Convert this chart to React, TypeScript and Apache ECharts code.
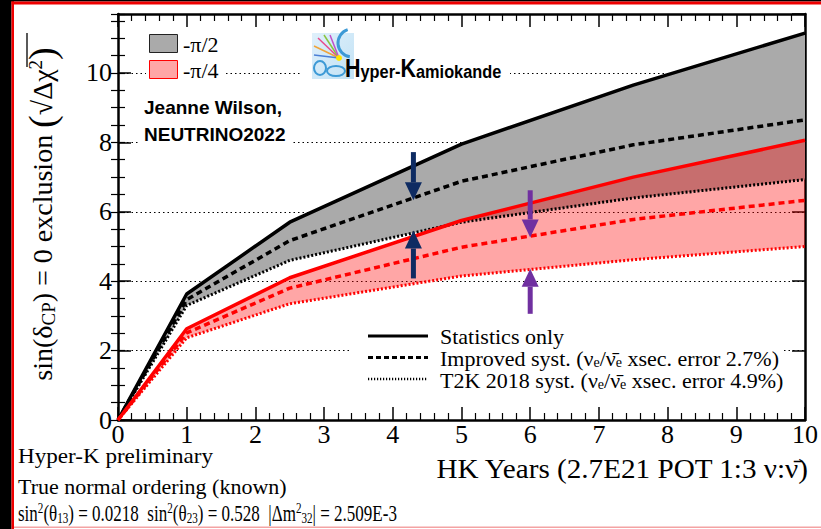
import React, { useEffect, useRef } from "react";
import * as echarts from "echarts";

const SERIF = '"Liberation Serif", "Times New Roman", serif';
const SANS = '"Liberation Sans", Arial, sans-serif';

// HK years of running
const YEARS = [0, 1, 2.5, 5, 7.5, 10];
// -pi/2 : sqrt(delta chi2) for sin(dCP)=0 exclusion
const PI2_STAT = [0, 3.63, 5.7, 7.95, 9.65, 11.15];
const PI2_IMPROVED = [0, 3.47, 5.17, 6.88, 7.93, 8.65];
const PI2_T2K = [0, 3.3, 4.6, 5.7, 6.4, 6.93];
// -pi/4
const PI4_STAT = [0, 2.63, 4.1, 5.75, 7.0, 8.06];
const PI4_IMPROVED = [0, 2.51, 3.8, 4.98, 5.78, 6.33];
const PI4_T2K = [0, 2.37, 3.35, 4.15, 4.62, 5.0];

const THRESHOLD_SIGMA = 5;
const X_MIN = 0;
const X_MAX = 10;
const Y_MIN = 0;
const Y_MAX = 11.7;

// arrows: x position, start value, tip value
const ARROW_X = [4.3, 4.3, 6, 6];
const ARROW_FROM = [7.72, 4.08, 6.62, 3.06];
const ARROW_TO = [6.33, 5.46, 5.26, 4.36];
const ARROW_COLORS = ["#0e2b62", "#0e2b62", "#7030a0", "#7030a0"];

const pairs = (ys: number[]) => YEARS.map((x, i) => [x, ys[i]]);

function band(upper: number[], lower: number[], fill: string, z: number) {
  return {
    type: "custom",
    coordinateSystem: "cartesian2d",
    silent: true,
    clip: true,
    z,
    data: [[0, 0]],
    renderItem: (_p: any, api: any) => {
      const pts: number[][] = [];
      for (let i = 0; i < YEARS.length; i++) pts.push(api.coord([YEARS[i], upper[i]]));
      for (let i = YEARS.length - 1; i >= 0; i--) pts.push(api.coord([YEARS[i], lower[i]]));
      return { type: "polygon", shape: { points: pts }, style: { fill } };
    },
  };
}

function line(ys: number[], color: string, width: number, dash: any, z = 4) {
  return {
    type: "line",
    data: pairs(ys),
    showSymbol: false,
    symbol: "none",
    silent: true,
    z,
    lineStyle: { color, width, type: dash, cap: "butt" },
  };
}

export default function App() {
  const ref = useRef<HTMLDivElement>(null);
  useEffect(() => {
    if (!ref.current) return;
    const chart = echarts.init(ref.current, undefined, { renderer: "svg" });

    const axisCommonX = {
      type: "value",
      min: X_MIN,
      max: X_MAX,
      interval: 1,
      axisLine: { show: true, onZero: false, lineStyle: { color: "#000", width: 2.5 } },
      axisTick: { show: true, inside: true, length: 13, lineStyle: { color: "#000", width: 1.5 } },
      minorTick: { show: true, splitNumber: 5, length: 7, lineStyle: { color: "#000", width: 1.2 } },
      splitLine: { show: false },
    };
    const yMajor = {
      type: "value",
      min: Y_MIN,
      max: Y_MAX,
      interval: 2,
      axisLine: { show: true, onZero: false, lineStyle: { color: "#000", width: 2.5 } },
      axisTick: { show: true, inside: true, length: 13, lineStyle: { color: "#000", width: 1.5 } },
    };
    const yMinor = {
      type: "value",
      min: Y_MIN,
      max: Y_MAX,
      interval: 0.5,
      axisLine: { show: false },
      axisTick: { show: true, inside: true, length: 7, lineStyle: { color: "#000", width: 1.2 } },
      axisLabel: { show: false },
      splitLine: { show: false },
    };

    const richSub = (fs: number, pad: number) => ({ fontSize: fs, fontFamily: SERIF, color: "#000", padding: [pad, 0, 0, 0] });
    const richSup = (fs: number, pad: number) => ({ fontSize: fs, fontFamily: SERIF, color: "#000", padding: [0, 0, pad, 0] });
    const legendRich = {
      n: { fontSize: 22, fontFamily: SERIF, color: "#000", lineHeight: 18 },
      s: { ...richSub(14, 8), lineHeight: 10 },
    };

    const option: any = {
      animation: false,
      backgroundColor: "#fff",
      grid: { left: 118, right: 13, top: 14, bottom: 109, containLabel: false },
      xAxis: [
        {
          ...axisCommonX,
          position: "bottom",
          axisLabel: { show: true, color: "#000", fontFamily: SERIF, fontSize: 26, margin: 3, lineHeight: 22 },
        },
        { ...axisCommonX, position: "top", axisLabel: { show: false } },
      ],
      yAxis: [
        {
          ...yMajor,
          position: "left",
          axisLabel: { show: true, color: "#000", fontFamily: SERIF, fontSize: 26, margin: 6, showMaxLabel: false },
          splitLine: { show: true, lineStyle: { color: "#000", width: 1, type: [1.5, 3] } },
        },
        { ...yMajor, position: "right", axisLabel: { show: false }, splitLine: { show: false } },
        { ...yMinor, position: "left" },
        { ...yMinor, position: "right" },
      ],
      series: [
        band(PI2_STAT, PI2_T2K, "#aaaaaa", 1),
        band(PI4_STAT, PI4_T2K, "rgba(255,0,0,0.35)", 2),
        line(PI2_T2K, "#000", 3, [2, 2]),
        line(PI2_IMPROVED, "#000", 3.5, [6, 4]),
        line(PI2_STAT, "#000", 3.5, "solid"),
        line(PI4_T2K, "#ff0000", 3, [2, 2]),
        line(PI4_IMPROVED, "#ff0000", 3.5, [6, 4]),
        line(PI4_STAT, "#ff0000", 3.5, "solid"),
        {
          type: "custom",
          coordinateSystem: "cartesian2d",
          silent: true,
          clip: false,
          z: 6,
          data: [[X_MIN, THRESHOLD_SIGMA]],
          renderItem: (_p: any, api: any) => {
            const p = api.coord([api.value(0), api.value(1)]);
            return {
              type: "line",
              shape: { x1: 100, y1: p[1], x2: 821, y2: p[1] },
              style: {
                stroke: "#000",
                lineWidth: 2.5,
                shadowBlur: 7,
                shadowColor: "rgba(0,0,0,0.5)",
                shadowOffsetY: 4,
              },
            };
          },
        },
        {
          type: "custom",
          coordinateSystem: "cartesian2d",
          silent: true,
          z: 7,
          data: ARROW_X.map((x, i) => [x, ARROW_FROM[i], ARROW_TO[i]]),
          renderItem: (params: any, api: any) => {
            const x = api.value(0);
            const p1 = api.coord([x, api.value(1)]);
            const p2 = api.coord([x, api.value(2)]);
            const dir = Math.sign(p2[1] - p1[1]);
            const headLen = 18;
            const headW = 17;
            const shaftW = 5;
            const baseY = p2[1] - dir * headLen;
            const color = ARROW_COLORS[params.dataIndex];
            return {
              type: "group",
              children: [
                {
                  type: "rect",
                  shape: { x: p1[0] - shaftW / 2, y: Math.min(p1[1], baseY), width: shaftW, height: Math.abs(baseY - p1[1]) },
                  style: { fill: color },
                },
                {
                  type: "polygon",
                  shape: { points: [[p2[0], p2[1]], [p2[0] - headW / 2, baseY], [p2[0] + headW / 2, baseY]] },
                  style: { fill: color },
                },
              ],
            };
          },
        },
      ],
      graphic: [
        // frame decoration
        { type: "rect", z: 200, shape: { x: 0, y: 0, width: 11.5, height: 529 }, style: { fill: "#000" } },
        { type: "rect", z: 200, shape: { x: 11.5, y: 0, width: 2.5, height: 529 }, style: { fill: "#e00" } },
        { type: "rect", z: 200, shape: { x: 0, y: 0, width: 821, height: 1.5 }, style: { fill: "#000" } },
        { type: "rect", z: 200, shape: { x: 11.5, y: 1.5, width: 810, height: 3 }, style: { fill: "#e00" } },
        { type: "rect", z: 200, shape: { x: 14, y: 526.5, width: 807, height: 1.5 }, style: { fill: "#f4a3a3" } },

        // top-left legend
        { type: "rect", z: 50, shape: { x: 146, y: 27, width: 80, height: 58 }, style: { fill: "#fff" } },
        { type: "rect", z: 51, shape: { x: 149.5, y: 34.5, width: 28, height: 18 }, style: { fill: "#aaaaaa", stroke: "#222", lineWidth: 1 } },
        { type: "rect", z: 51, shape: { x: 149.5, y: 60.5, width: 28, height: 18 }, style: { fill: "#ffa6a6", stroke: "#f00", lineWidth: 1 } },
        { type: "text", z: 51, x: 183, y: 44, style: { text: "-π/2", font: `22px ${SERIF}`, fill: "#000", verticalAlign: "middle" } },
        { type: "text", z: 51, x: 183, y: 70, style: { text: "-π/4", font: `22px ${SERIF}`, fill: "#000", verticalAlign: "middle" } },

        // author
        { type: "rect", z: 50, shape: { x: 140, y: 92, width: 152, height: 56 }, style: { fill: "#fff" } },
        { type: "text", z: 51, x: 144, y: 107, style: { text: "Jeanne Wilson,", font: `bold 19px ${SANS}`, fill: "#000", verticalAlign: "middle" } },
        { type: "text", z: 51, x: 144, y: 134, style: { text: "NEUTRINO2022", font: `bold 19px ${SANS}`, fill: "#000", verticalAlign: "middle" } },

        // logo
        { type: "rect", z: 50, shape: { x: 300, y: 28, width: 210, height: 57 }, style: { fill: "#fff" } },
        {
          type: "rect",
          z: 51,
          shape: { x: 312, y: 33, width: 42, height: 46 },
          style: {
            fill: new echarts.graphic.LinearGradient(0, 0, 1, 1, [
              { offset: 0, color: "#dff0fb" },
              { offset: 1, color: "#c2e2f5" },
            ]),
          },
        },
        { type: "arc", z: 52, shape: { cx: 352, cy: 43, r: 14, startAngle: Math.PI * 0.55, endAngle: Math.PI * 1.4 }, style: { stroke: "#3d9ad6", lineWidth: 3, fill: "none" } },
        { type: "ellipse", z: 52, shape: { cx: 320, cy: 68, rx: 6, ry: 7 }, style: { stroke: "#3d9ad6", lineWidth: 2, fill: "none" } },
        { type: "ellipse", z: 52, shape: { cx: 336, cy: 71, rx: 9, ry: 5 }, style: { stroke: "#3d9ad6", lineWidth: 2, fill: "none" } },
        { type: "line", z: 52, shape: { x1: 318, y1: 38, x2: 339, y2: 58 }, style: { stroke: "#e84a8a", lineWidth: 1.5 } },
        { type: "line", z: 52, shape: { x1: 324, y1: 35, x2: 339, y2: 58 }, style: { stroke: "#8ac43f", lineWidth: 1.5 } },
        { type: "line", z: 52, shape: { x1: 330, y1: 35, x2: 339, y2: 58 }, style: { stroke: "#c04fc9", lineWidth: 1.5 } },
        { type: "line", z: 52, shape: { x1: 314, y1: 46, x2: 339, y2: 58 }, style: { stroke: "#f0a43a", lineWidth: 1.5 } },
        { type: "line", z: 52, shape: { x1: 314, y1: 55, x2: 339, y2: 58 }, style: { stroke: "#4b7fd6", lineWidth: 1.5 } },
        { type: "circle", z: 53, shape: { cx: 339, cy: 58, r: 3 }, style: { fill: "#ffe600" } },
        {
          type: "text",
          z: 54,
          x: 345,
          y: 81,
          scaleX: 0.86,
          style: {
            text: "{b|H}{s|yper-}{b|K}{s|amiokande}",
            verticalAlign: "bottom",
            rich: {
              b: { font: `bold 25px ${SANS}`, fill: "#000", verticalAlign: "bottom" },
              s: { font: `bold 19px ${SANS}`, fill: "#000", verticalAlign: "bottom" },
            },
          },
        },

        // statistics legend
        { type: "rect", z: 50, shape: { x: 352, y: 322, width: 430, height: 72 }, style: { fill: "#fff" } },
        { type: "line", z: 51, shape: { x1: 368, y1: 336, x2: 428, y2: 336 }, style: { stroke: "#000", lineWidth: 3 } },
        { type: "line", z: 51, shape: { x1: 368, y1: 357.5, x2: 428, y2: 357.5 }, style: { stroke: "#000", lineWidth: 3, lineDash: [5, 3] } },
        { type: "line", z: 51, shape: { x1: 368, y1: 379, x2: 428, y2: 379 }, style: { stroke: "#000", lineWidth: 2.5, lineDash: [1.2, 1.8] } },
        {
          type: "text",
          z: 51,
          x: 440,
          y: 336,
          style: { text: "{n|Statistics only}", verticalAlign: "middle", rich: legendRich },
        },
        {
          type: "text",
          z: 51,
          x: 440,
          y: 358,
          style: {
            text: "{n|Improved syst. (ν}{s|e}{n|/ν̄}{s|e}{n| xsec. error 2.7%)}",
            verticalAlign: "middle",
            rich: legendRich,
          },
        },
        {
          type: "text",
          z: 51,
          x: 440,
          y: 380,
          style: {
            text: "{n|T2K 2018 syst. (ν}{s|e}{n|/ν̄}{s|e}{n| xsec. error 4.9%)}",
            verticalAlign: "middle",
            rich: legendRich,
          },
        },

        // y axis title
        {
          type: "text",
          z: 60,
          x: 42,
          y: 214,
          rotation: Math.PI / 2,
          style: {
            text: "{n|sin(δ}{s|CP}{n|) = 0 exclusion }{p|(}{n|√Δχ}{u|2}{p|)}",
            align: "center",
            verticalAlign: "middle",
            rich: {
              n: { fontSize: 28, fontFamily: SERIF, color: "#000" },
              s: richSub(19, 12),
              u: richSup(19, 14),
              p: { fontSize: 38, fontFamily: SERIF, color: "#000" },
            },
          },
        },
        // radical overline
        { type: "line", z: 60, shape: { x1: 27, y1: 33, x2: 27, y2: 67 }, style: { stroke: "#000", lineWidth: 1.3 } },

        // x axis title
        {
          type: "text",
          z: 60,
          x: 808,
          y: 469,
          scaleX: 1.08,
          style: { text: "HK Years (2.7E21 POT 1:3 ν:ν̄)", font: `27px ${SERIF}`, fill: "#000", align: "right", verticalAlign: "middle" },
        },

        // bottom-left notes
        { type: "text", z: 60, x: 18, y: 456, scaleX: 1.05, style: { text: "Hyper-K preliminary", font: `22px ${SERIF}`, fill: "#000", verticalAlign: "middle" } },
        { type: "text", z: 60, x: 18, y: 486, style: { text: "True normal ordering (known)", font: `22px ${SERIF}`, fill: "#000", verticalAlign: "middle" } },
        {
          type: "text",
          z: 60,
          x: 18,
          y: 513,
          scaleX: 0.74,
          style: {
            text:
              "{n|sin}{u|2}{n|(θ}{s|13}{n|) = 0.0218  sin}{u|2}{n|(θ}{s|23}{n|) = 0.528  |Δm}{u|2}{s|32}{n|| = 2.509E-3}",
            verticalAlign: "middle",
            rich: {
              n: { fontSize: 23, fontFamily: SERIF, color: "#000", lineHeight: 20 },
              s: { ...richSub(15, 9), lineHeight: 12 },
              u: { ...richSup(15, 10), lineHeight: 12 },
            },
          },
        },
      ],
    };

    chart.setOption(option);
    return () => chart.dispose();
  }, []);

  return <div ref={ref} style={{ width: 821, height: 529, position: "absolute", left: 0, top: 0 }} />;
}
